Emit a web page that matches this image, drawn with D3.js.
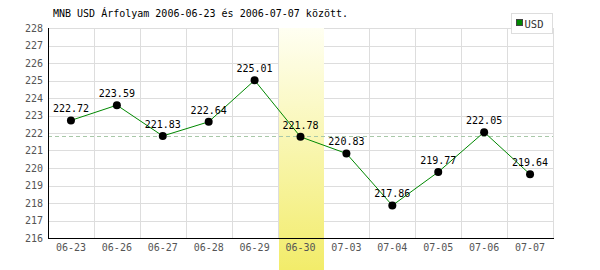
<!DOCTYPE html>
<html>
<head>
<meta charset="utf-8">
<script src="https://cdn.jsdelivr.net/npm/d3@7"></script>
<style>
  body { margin: 0; background: #fff; }
  text { font-family: "DejaVu Sans Mono", monospace; }
</style>
</head>
<body>
<div id="chart"></div>
<script>
// data
var dates = ["06-23", "06-26", "06-27", "06-28", "06-29", "06-30", "07-03", "07-04", "07-05", "07-06", "07-07"];
var rates = [222.72, 223.59, 221.83, 222.64, 225.01, 221.78, 220.83, 217.86, 219.77, 222.05, 219.64];
var yTicks = [216, 217, 218, 219, 220, 221, 222, 223, 224, 225, 226, 227, 228];
var avgLine = 221.85;
var highlighted = "06-30";
var title = "MNB USD Árfolyam 2006-06-23 és 2006-07-07 között.";
var seriesName = "USD";

var width = 600, height = 270;
var margin = {top: 28, right: 47, bottom: 32, left: 48};

var svg = d3.select("#chart").append("svg")
    .attr("width", width)
    .attr("height", height);

var x = d3.scaleBand()
    .domain(dates)
    .range([margin.left, width - margin.right]);

var y = d3.scaleLinear()
    .domain([216, 228])
    .range([height - margin.bottom, margin.top]);

// grid
var grid = svg.append("g").attr("stroke", "#dddddd").attr("shape-rendering", "crispEdges");
grid.selectAll("line.h")
    .data(yTicks)
    .enter().append("line")
    .attr("x1", margin.left).attr("x2", width - margin.right)
    .attr("y1", function(d) { return Math.round(y(d)) + 0.5; })
    .attr("y2", function(d) { return Math.round(y(d)) + 0.5; });
grid.selectAll("line.v")
    .data(dates)
    .enter().append("line")
    .attr("x1", function(d) { return Math.round(x(d) + x.bandwidth()) + 0.5; })
    .attr("x2", function(d) { return Math.round(x(d) + x.bandwidth()) + 0.5; })
    .attr("y1", margin.top).attr("y2", height - margin.bottom);

// highlighted day
var grad = svg.append("defs").append("linearGradient")
    .attr("id", "hl").attr("x1", 0).attr("x2", 0).attr("y1", 0).attr("y2", 1);
grad.append("stop").attr("offset", "0%").attr("stop-color", "#fffff2");
grad.append("stop").attr("offset", "100%").attr("stop-color", "#f2ec6a");

svg.append("rect")
    .attr("x", Math.round(x(highlighted)) + 1)
    .attr("width", Math.round(x.bandwidth()) - 1)
    .attr("y", margin.top)
    .attr("height", height - margin.top)
    .attr("fill", "url(#hl)");

// average line
svg.append("line")
    .attr("x1", margin.left).attr("x2", width - margin.right)
    .attr("y1", Math.round(y(avgLine)) + 0.5).attr("y2", Math.round(y(avgLine)) + 0.5)
    .attr("stroke", "#a8c8a8")
    .attr("stroke-dasharray", "4,3");

// axes
var yAxis = svg.append("g")
    .attr("transform", "translate(" + margin.left + ",0)")
    .call(d3.axisLeft(y).tickValues(yTicks).tickSize(0).tickPadding(5).tickFormat(d3.format("d")));
yAxis.select(".domain").remove();
yAxis.selectAll("text").attr("fill", "#555").attr("font-size", "10px")
    .attr("font-family", "DejaVu Sans Mono");

var xAxis = svg.append("g")
    .attr("transform", "translate(0," + (height - margin.bottom) + ")")
    .call(d3.axisBottom(x).tickSize(0).tickPadding(6));
xAxis.select(".domain").remove();
xAxis.selectAll("text").attr("fill", "#555").attr("font-size", "10px")
    .attr("font-family", "DejaVu Sans Mono");

svg.append("line")
    .attr("x1", margin.left + 0.5).attr("x2", margin.left + 0.5)
    .attr("y1", margin.top).attr("y2", height - margin.bottom + 1)
    .attr("stroke", "#000").attr("shape-rendering", "crispEdges");
svg.append("line")
    .attr("x1", margin.left).attr("x2", width - margin.right + 1)
    .attr("y1", height - margin.bottom + 0.5).attr("y2", height - margin.bottom + 0.5)
    .attr("stroke", "#000").attr("shape-rendering", "crispEdges");

// series
var cx = function(d, i) { return x(dates[i]) + x.bandwidth() / 2; };

svg.append("path")
    .datum(rates)
    .attr("fill", "none")
    .attr("stroke", "#008800")
    .attr("stroke-width", 1)
    .attr("d", d3.line().x(cx).y(function(d) { return y(d); }));

svg.selectAll("circle.pt")
    .data(rates)
    .enter().append("circle")
    .attr("cx", cx)
    .attr("cy", function(d) { return y(d); })
    .attr("r", 4)
    .attr("fill", "#000");

svg.selectAll("text.val")
    .data(rates)
    .enter().append("text")
    .attr("x", cx)
    .attr("y", function(d) { return y(d) - 8; })
    .attr("text-anchor", "middle")
    .attr("font-size", "10px")
    .attr("fill", "#000")
    .text(function(d) { return d3.format(".2f")(d); });

// title
svg.append("text")
    .attr("x", 53).attr("y", 17)
    .attr("font-size", "10px")
    .attr("fill", "#000")
    .text(title);

// legend
var legend = svg.append("g");
legend.append("rect")
    .attr("x", 511.5).attr("y", 13.5).attr("width", 41).attr("height", 20)
    .attr("fill", "#fff").attr("stroke", "#dddddd");
legend.append("rect")
    .attr("x", 516.5).attr("y", 19.5).attr("width", 6).attr("height", 6)
    .attr("fill", "#008800").attr("stroke", "#444");
legend.append("text")
    .attr("x", 524.5).attr("y", 27.5)
    .attr("font-size", "10.5px")
    .attr("font-family", "DejaVu Sans Condensed, sans-serif")
    .attr("fill", "#333")
    .text(seriesName);
</script>
</body>
</html>
